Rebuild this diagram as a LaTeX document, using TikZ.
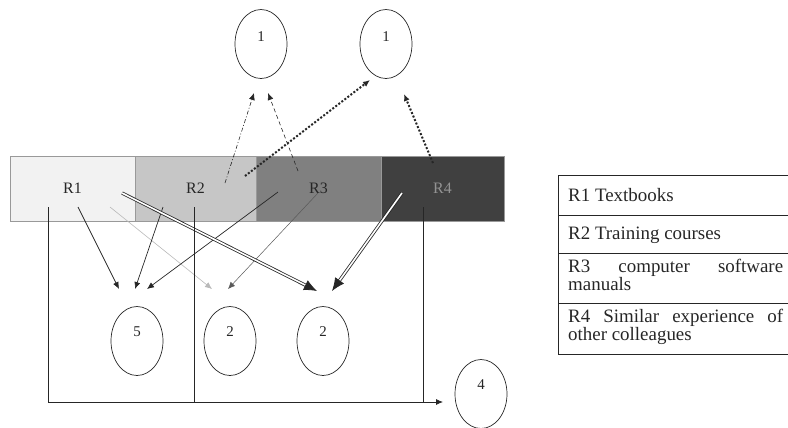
\documentclass[tikz,border=0pt]{standalone}
\usepackage{fontspec}
\setmainfont{Liberation Serif}
\usetikzlibrary{shapes.geometric,arrows.meta}
\definecolor{cR1}{HTML}{F2F2F2}
\definecolor{cR2}{HTML}{C6C6C6}
\definecolor{cR3}{HTML}{808080}
\definecolor{cR4}{HTML}{404040}
\definecolor{ink}{HTML}{262626}
\tikzset{
  seg/.style={rectangle, minimum height=65bp, inner sep=0, draw=gray!80, line width=0.6bp,
              font=\fontsize{16}{16}\selectfont, text=ink},
  oval/.style={ellipse, draw=ink, line width=0.7bp, minimum width=52bp, minimum height=69bp, inner sep=0},
  num/.style={font=\fontsize{15}{15}\selectfont, inner sep=0, text=ink},
  tip/.style={-{Latex[length=7bp,width=6bp]}},
  conn/.style={tip, line width=0.7bp, draw=ink},
  lightconn/.style={tip, line width=0.6bp, draw=gray!55},
  greyconn/.style={tip, line width=0.5bp, draw=gray!70!black},
  dotconn/.style={tip, line width=2bp, draw=ink, dash pattern=on 2bp off 1.8bp},
  dashdotconn/.style={tip, line width=0.6bp, draw=ink, dash pattern=on 4bp off 2bp on 1bp off 2bp},
  dashconn/.style={tip, line width=0.6bp, draw=ink, dash pattern=on 4bp off 3bp},
  dblconn/.style={-{Latex[length=13bp,width=11bp]}, draw=ink, line width=0.8bp, double=white, double distance=1.6bp},
  frameline/.style={line width=0.8bp, draw=ink},
  tabline/.style={line width=0.9bp, draw=ink},
  tabtext/.style={anchor=base west, inner sep=0, font=\fontsize{19}{18}\selectfont, text=ink},
}
\begin{document}
\begin{tikzpicture}[x=1bp,y=-1bp]
\useasboundingbox (0,0) rectangle (788,427);

% bar segments
\node[seg, fill=cR1, minimum width=125bp] (R1) at (72.5,188.5) {R1};
\node[seg, fill=cR2, minimum width=121bp] (R2) at (195.5,188.5) {R2};
\node[seg, fill=cR3, minimum width=125bp] (R3) at (318.5,188.5) {R3};
\node[seg, fill=cR4, minimum width=123bp, text=gray!85] (R4) at (442.5,188.5) {R4};

% ovals
\node[oval] (t1) at (261,44) {};
\node[oval] (t2) at (386,44) {};
\node[oval] (o5) at (137,341) {};
\node[oval] (o2a) at (230,341) {};
\node[oval] (o2b) at (323,341) {};
\node[oval] (o4) at (481,394) {};
\node[num] at ([yshift=7bp]t1.center) {1};
\node[num] at ([yshift=7bp]t2.center) {1};
\node[num] at ([yshift=9bp]o5.center) {5};
\node[num] at ([yshift=9bp]o2a.center) {2};
\node[num] at ([yshift=9bp]o2b.center) {2};
\node[num] at ([yshift=9bp]o4.center) {4};

% start and end coordinates
\coordinate (sA1) at (225,183);  \coordinate (eA1) at (254,93);
\coordinate (sA2) at (298,171);  \coordinate (eA2) at (268,93);
\coordinate (sA3) at (245,176);  \coordinate (eA3) at (370,80);
\coordinate (sA4) at (433,163);  \coordinate (eA4) at (404,94);

\coordinate (sB1) at (78,207);   \coordinate (eB1) at (119,289);
\coordinate (sB2) at (163,207);  \coordinate (eB2) at (135,289);
\coordinate (sB3) at (278,192);  \coordinate (eB3) at (147,289);
\coordinate (sB4) at (110,207);  \coordinate (eB4) at (212,289);
\coordinate (sB5) at (318,193);  \coordinate (eB5) at (228,289);
\coordinate (sD1) at (122,193);  \coordinate (eD1) at (317,291);
\coordinate (sD2) at (402,193);  \coordinate (eD2) at (332,291);

\coordinate (v1) at (48,207);  \coordinate (v1b) at (48,402);
\coordinate (v2) at (194,207); \coordinate (v2b) at (194,403);
\coordinate (v3) at (423,207); \coordinate (v3b) at (423,402);
\coordinate (h4) at (443,402);

% top arrows
\draw[dashdotconn] (sA1) -- (eA1);
\draw[dashconn] (sA2) -- (eA2);
\draw[dotconn] (sA3) -- (eA3);
\draw[dotconn] (sA4) -- (eA4);

% bottom arrows
\draw[lightconn] (sB4) -- (eB4);
\draw[greyconn] (sB5) -- (eB5);
\draw[conn] (sB1) -- (eB1);
\draw[conn] (sB2) -- (eB2);
\draw[conn] (sB3) -- (eB3);
\draw[dblconn] (sD1) -- (eD1);
\draw[dblconn] (sD2) -- (eD2);

% frame lines
\draw[frameline, tip] (v1) -- (v1b) -- (h4);
\draw[frameline] (v2) -- (v2b);
\draw[frameline] (v3) -- (v3b);

% legend table
\coordinate (tl) at (558,175);
\coordinate (bl) at (558,354);
\draw[tabline] (tl) -- (bl);
\foreach \yy in {175,215,253,303,354} \draw[tabline] (558,\yy) -- (788,\yy);
\node[tabtext] (L1) at (568,201) {R1 Textbooks};
\node[tabtext] (L2) at (568,239) {R2 Training courses};
\node[tabtext] (L3a) at (568,272) {\makebox[215bp][s]{R3 computer software}};
\node[tabtext] (L3b) at (568,290) {manuals};
\node[tabtext] (L4a) at (568,322) {\makebox[215bp][s]{R4 Similar experience of}};
\node[tabtext] (L4b) at (568,340) {other colleagues};
\end{tikzpicture}
\end{document}
